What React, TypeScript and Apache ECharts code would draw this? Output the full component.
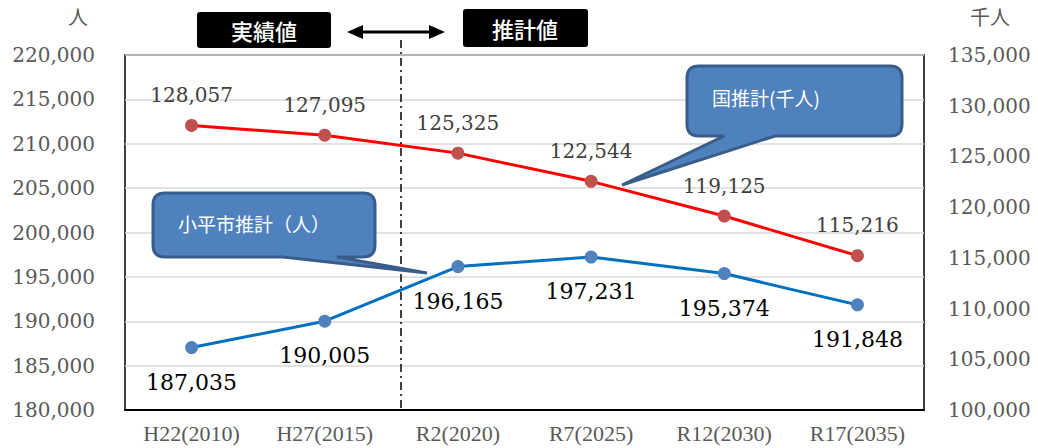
import React, { useEffect, useRef } from "react";
import * as echarts from "echarts";

const categories = ["H22(2010)", "H27(2015)", "R2(2020)", "R7(2025)", "R12(2030)", "R17(2035)"];
const kodairaValues = [187035, 190005, 196165, 197231, 195374, 191848];
const nationalValues = [128057, 127095, 125325, 122544, 119125, 115216];
const leftAxisRange = [180000, 220000];
const rightAxisRange = [100000, 135000];
const axisStep = 5000;

const SERIF = "'DejaVu Serif', 'Liberation Serif', serif";
const SANS = "'Noto Sans CJK JP', 'Noto Sans', sans-serif";

const fmt = (v: number) => v.toLocaleString("en-US");

let registered = false;
function registerShapes() {
  if (registered) return;
  registered = true;
  const d1 =
    "M 699 66 L 890 66 Q 902 66 902 78 L 902 124 Q 902 136 890 136 L 775 136 L 622 185 L 724 136 L 699 136 Q 687 136 687 124 L 687 78 Q 687 66 699 66 Z";
  const d2 =
    "M 165 193 L 363 193 Q 375 193 375 205 L 375 245 Q 375 257 363 257 L 337 257 L 427 273 L 283 257 L 165 257 Q 153 257 153 245 L 153 205 Q 153 193 165 193 Z";
  echarts.graphic.registerShape("calloutNational", echarts.graphic.extendPath(d1, {}) as any);
  echarts.graphic.registerShape("calloutKodaira", echarts.graphic.extendPath(d2, {}) as any);
}

export default function App() {
  const ref = useRef<HTMLDivElement>(null);

  useEffect(() => {
    if (!ref.current) return;
    registerShapes();
    const chart = echarts.init(ref.current, undefined, { renderer: "svg" });
    const calloutStyle = { fill: "#4F81BD", stroke: "#385D8A", lineWidth: 3 };
    chart.setOption({
      animation: false,
      backgroundColor: "#ffffff",
      grid: {
        left: 125,
        right: 114,
        top: 55,
        bottom: 38,
        show: true,
        borderColor: "#000000",
        borderWidth: 1.5,
      },
      xAxis: {
        type: "category",
        data: categories,
        boundaryGap: true,
        axisLine: { show: true, lineStyle: { color: "#000000", width: 2 } },
        axisTick: { show: false },
        axisLabel: {
          color: "#595959",
          fontFamily: "'Liberation Serif', serif",
          fontSize: 22,
          margin: 12,
          interval: 0,
        },
      },
      yAxis: [
        {
          type: "value",
          min: leftAxisRange[0],
          max: leftAxisRange[1],
          interval: axisStep,
          axisLine: { show: false },
          axisTick: { show: false },
          splitLine: { show: true, lineStyle: { color: "#D9D9D9", width: 1.5 } },
          axisLabel: { color: "#595959", fontFamily: SERIF, fontSize: 20, margin: 30, formatter: fmt },
        },
        {
          type: "value",
          min: rightAxisRange[0],
          max: rightAxisRange[1],
          interval: axisStep,
          position: "right",
          axisLine: { show: false },
          axisTick: { show: false },
          splitLine: { show: false },
          axisLabel: { color: "#595959", fontFamily: SERIF, fontSize: 20, margin: 24, formatter: fmt },
        },
      ],
      series: [
        {
          name: "国推計（千人）",
          type: "line",
          yAxisIndex: 1,
          data: nationalValues,
          symbol: "circle",
          symbolSize: 13,
          lineStyle: { color: "#FF0000", width: 3 },
          itemStyle: { color: "#C0504D" },
          label: {
            show: true,
            position: "top",
            distance: 14,
            color: "#404040",
            fontFamily: SERIF,
            fontSize: 20,
            formatter: (p: any) => fmt(p.value),
          },
          z: 3,
        },
        {
          name: "小平市推計（人）",
          type: "line",
          yAxisIndex: 0,
          data: kodairaValues,
          symbol: "circle",
          symbolSize: 13,
          lineStyle: { color: "#0070C0", width: 3 },
          itemStyle: { color: "#4F81BD" },
          label: {
            show: true,
            position: "bottom",
            distance: 17,
            color: "#000000",
            fontFamily: SERIF,
            fontSize: 22,
            formatter: (p: any) => fmt(p.value),
          },
          z: 3,
        },
      ],
      graphic: [
        {
          type: "text",
          left: 68,
          top: 6,
          style: { text: "人", fill: "#595959", font: `20px ${SANS}` },
        },
        {
          type: "text",
          left: 970,
          top: 6,
          style: { text: "千人", fill: "#595959", font: `20px ${SANS}` },
        },
        {
          type: "line",
          shape: { x1: 401, y1: 40, x2: 401, y2: 410 },
          style: { stroke: "#000000", lineWidth: 1.5, lineDash: [8, 4, 2, 4] },
          z: 10,
        },
        {
          type: "rect",
          shape: { x: 197, y: 12, width: 134, height: 36, r: 3 },
          style: { fill: "#000000" },
          z: 10,
        },
        {
          type: "text",
          x: 264,
          y: 30,
          style: {
            text: "実績値",
            fill: "#ffffff",
            font: `500 22px ${SANS}`,
            align: "center",
            verticalAlign: "middle",
          },
          z: 11,
        },
        {
          type: "rect",
          shape: { x: 463, y: 9, width: 125, height: 38, r: 3 },
          style: { fill: "#000000" },
          z: 10,
        },
        {
          type: "text",
          x: 525,
          y: 28,
          style: {
            text: "推計値",
            fill: "#ffffff",
            font: `500 22px ${SANS}`,
            align: "center",
            verticalAlign: "middle",
          },
          z: 11,
        },
        {
          type: "line",
          shape: { x1: 358, y1: 32, x2: 434, y2: 32 },
          style: { stroke: "#000000", lineWidth: 3 },
          z: 10,
        },
        {
          type: "polygon",
          shape: { points: [[347, 32], [363, 25], [363, 39]] },
          style: { fill: "#000000" },
          z: 10,
        },
        {
          type: "polygon",
          shape: { points: [[445, 32], [429, 25], [429, 39]] },
          style: { fill: "#000000" },
          z: 10,
        },
        {
          type: "calloutNational",
          x: 0,
          y: 0,
          style: calloutStyle,
          z: 20,
        },
        {
          type: "text",
          x: 712,
          y: 97,
          style: {
            text: "国推計(千人)",
            fill: "#ffffff",
            font: `19px ${SANS}`,
            verticalAlign: "middle",
          },
          z: 21,
        },
        {
          type: "calloutKodaira",
          x: 0,
          y: 0,
          style: calloutStyle,
          z: 20,
        },
        {
          type: "text",
          x: 178,
          y: 223,
          style: {
            text: "小平市推計（人）",
            fill: "#ffffff",
            font: `19px ${SANS}`,
            verticalAlign: "middle",
          },
          z: 21,
        },
      ],
    });
    return () => chart.dispose();
  }, []);

  return (
    <div
      ref={ref}
      style={{ position: "fixed", left: 0, top: 0, width: 1038, height: 448, background: "#fff" }}
    />
  );
}
